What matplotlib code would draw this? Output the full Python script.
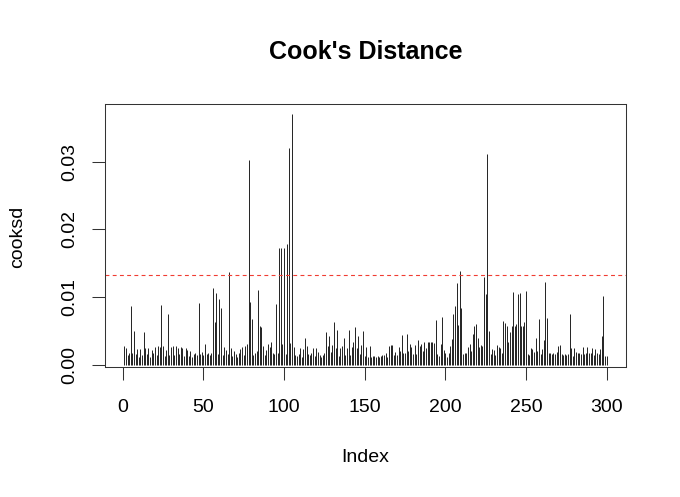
import matplotlib
matplotlib.use("Agg")
import matplotlib.pyplot as plt
import numpy as np

plt.rcParams['font.family'] = ['Liberation Sans', 'DejaVu Sans']

cooksd_e3 = [
    2.8, 2.5, 1.5, 1.8, 8.7, 1.7, 5.0, 1.6, 2.3, 1.2, 2.3, 1.4, 4.9, 2.4, 1.6, 2.4, 1.1, 2.2, 1.8, 2.6,
    1.5, 2.7, 2.6, 8.8, 2.8, 1.3, 2.1, 7.5, 1.5, 2.6, 2.8, 1.4, 2.7, 2.5, 1.6, 2.6, 2.4, 1.3, 2.5, 2.2,
    1.3, 2.0, 1.1, 1.6, 1.7, 1.5, 9.1, 1.6, 1.9, 1.4, 3.1, 1.6, 1.8, 1.5, 1.7, 11.3, 6.3, 10.6, 1.6, 9.7,
    8.4, 1.5, 2.6, 2.2, 1.6, 13.7, 2.5, 1.3, 2.0, 1.6, 1.2, 1.8, 2.3, 2.6, 1.4, 2.7, 3.0, 30.3, 9.2, 6.7,
    1.5, 1.8, 2.0, 11.1, 5.7, 5.6, 2.8, 1.5, 2.2, 3.0, 2.6, 3.4, 1.7, 1.6, 8.9, 1.8, 17.3, 17.2, 3.1, 17.3,
    1.6, 17.9, 32.1, 3.2, 37.1, 2.6, 1.5, 1.3, 1.6, 2.5, 1.2, 2.3, 4.0, 2.7, 1.6, 1.4, 1.7, 2.5, 1.3, 2.5,
    1.9, 1.5, 1.1, 1.4, 1.7, 4.9, 2.8, 4.3, 1.9, 2.9, 6.3, 2.4, 5.2, 1.3, 2.5, 2.7, 4.0, 1.4, 2.5, 5.2,
    1.5, 2.6, 3.4, 5.6, 2.4, 4.3, 1.6, 2.9, 5.0, 1.3, 2.6, 1.2, 2.7, 1.2, 1.3, 1.3, 1.2, 1.3, 1.2, 1.3,
    1.4, 1.5, 1.8, 1.2, 2.8, 2.9, 2.9, 1.5, 1.9, 1.4, 2.6, 2.0, 4.4, 1.7, 1.8, 4.5, 2.0, 3.0, 2.6, 1.6,
    2.9, 1.6, 3.7, 2.7, 3.1, 2.0, 3.4, 2.5, 3.4, 3.3, 3.3, 3.3, 3.2, 6.6, 1.6, 1.3, 3.0, 7.1, 2.2, 1.8,
    1.1, 1.7, 2.8, 3.8, 7.5, 8.7, 12.1, 5.8, 13.8, 8.4, 1.6, 1.8, 1.7, 2.6, 3.0, 2.0, 4.5, 5.7, 6.0, 4.0,
    2.6, 2.9, 2.8, 13.0, 10.5, 31.1, 5.0, 1.6, 2.3, 2.2, 1.5, 2.9, 2.6, 2.5, 1.7, 6.5, 6.1, 5.7, 3.3, 4.8,
    5.7, 10.8, 5.7, 6.0, 10.5, 10.6, 5.7, 5.7, 6.3, 10.9, 1.6, 1.4, 2.5, 2.3, 1.9, 3.9, 2.0, 6.7, 1.6, 2.3,
    3.7, 12.2, 6.9, 1.7, 1.7, 1.6, 1.7, 1.6, 1.9, 2.8, 2.9, 1.6, 1.5, 1.6, 1.5, 1.6, 7.5, 2.5, 1.3, 2.5,
    1.9, 1.7, 1.7, 1.6, 2.6, 1.6, 1.8, 2.6, 1.8, 1.7, 2.5, 1.4, 2.3, 1.7, 1.6, 2.3, 4.3, 10.2, 1.3, 1.3,
]
cooksd = np.array(cooksd_e3) / 1000.0
index = np.arange(1, len(cooksd) + 1)
cutoff = 4 / len(cooksd)

xticks = [0, 50, 100, 150, 200, 250, 300]
yticks = [0.00, 0.01, 0.02, 0.03]

fig = plt.figure(figsize=(6.8, 4.97), dpi=100)
ax = fig.add_axes([105 / 680, 1 - 367 / 497, 521 / 680, 263 / 497])

ax.vlines(index, 0, cooksd, color='#222222', linewidth=0.7)
ax.axhline(cutoff, color='#f03c32', linewidth=0.8, linestyle=(0, (3.5, 3)))

# R style ranges: data range padded by 4%
pad_x = 0.04 * (len(cooksd) - 1)
ax.set_xlim(1 - pad_x, len(cooksd) + pad_x)
rng = cooksd.max() - cooksd.min()
ax.set_ylim(cooksd.min() - 0.04 * rng, cooksd.max() + 0.04 * rng)

for s in ax.spines.values():
    s.set_linewidth(0.75)
    s.set_color('#333333')

ax.set_xticks(xticks)
ax.set_xticklabels([str(t) for t in xticks])
ax.set_yticks(yticks)
ax.set_yticklabels(['%.2f' % t for t in yticks], rotation=90, va='center')
ax.tick_params(length=9.5, width=0.75, labelsize=14, color='#333333')
ax.tick_params(axis='x', pad=13.5)
ax.tick_params(axis='y', pad=9.5)

fig.text(0.5 * (105 + 626) / 680, 1 - 52 / 497, "Cook's Distance", ha='center', va='center',
         fontsize=18, fontweight='bold')
fig.text(0.5 * (105 + 626) / 680, 1 - 458 / 497, 'Index', ha='center', va='center', fontsize=14)
fig.text(18 / 680, 1 - 237 / 497, 'cooksd', ha='center', va='center', rotation=90, fontsize=14)

fig.savefig('out.png', dpi=100)
